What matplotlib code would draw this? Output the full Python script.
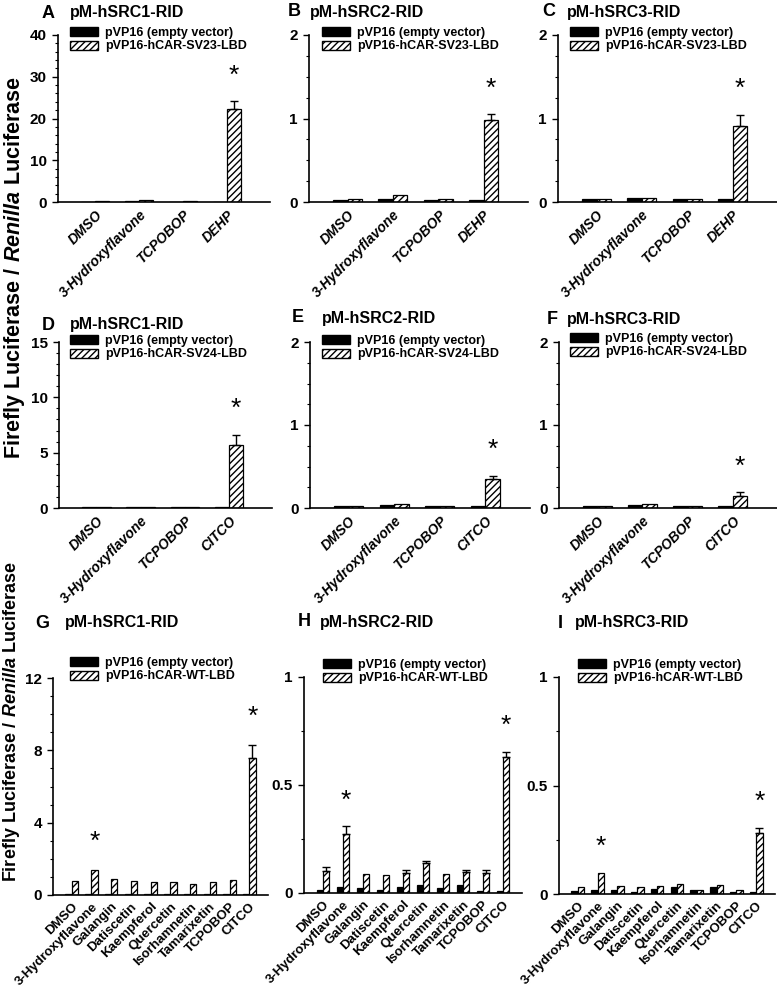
import numpy as np
import matplotlib
matplotlib.use("Agg")
import matplotlib.pyplot as plt
from matplotlib.patches import Patch

plt.rcParams['font.family'] = ['Liberation Sans', 'DejaVu Sans']
plt.rcParams['font.weight'] = 'bold'
plt.rcParams['mathtext.fontset'] = 'custom'
plt.rcParams['mathtext.rm'] = 'Liberation Sans'
plt.rcParams['mathtext.it'] = 'Liberation Sans:italic'
plt.rcParams['mathtext.bf'] = 'Liberation Sans:bold'
plt.rcParams['mathtext.sf'] = 'Liberation Sans:bold:italic'
plt.rcParams['hatch.linewidth'] = 1.0

# categories
cats_sv23 = ['DMSO', '3-Hydroxyflavone', 'TCPOBOP', 'DEHP']
cats_sv24 = ['DMSO', '3-Hydroxyflavone', 'TCPOBOP', 'CITCO']
cats_wt = ['DMSO', '3-Hydroxyflavone', 'Galangin', 'Datiscetin', 'Kaempferol',
           'Quercetin', 'Isorhamnetin', 'Tamarixetin', 'TCPOBOP', 'CITCO']

# row 1 (SV23)
a_empty = [0.1, 0.15, 0.1, 0.1]
a_car = [0.25, 0.5, 0.3, 22.3]
a_err = [0, 0, 0, 2.0]
b_empty = [0.02, 0.04, 0.02, 0.02]
b_car = [0.04, 0.08, 0.03, 0.98]
b_err = [0, 0, 0, 0.07]
c_empty = [0.03, 0.05, 0.03, 0.03]
c_car = [0.04, 0.05, 0.04, 0.91]
c_err = [0, 0, 0, 0.13]

# row 2 (SV24)
d_empty = [0.05, 0.08, 0.05, 0.05]
d_car = [0.07, 0.1, 0.06, 5.65]
d_err = [0, 0, 0, 0.95]
e_empty = [0.02, 0.04, 0.02, 0.02]
e_car = [0.03, 0.05, 0.03, 0.35]
e_err = [0, 0, 0, 0.03]
f_empty = [0.02, 0.04, 0.02, 0.02]
f_car = [0.03, 0.05, 0.03, 0.14]
f_err = [0, 0, 0, 0.05]

# row 3 (WT)
g_empty = [0.03, 0.05, 0.04, 0.03, 0.04, 0.04, 0.03, 0.05, 0.03, 0.04]
g_car = [0.75, 1.4, 0.9, 0.75, 0.7, 0.7, 0.6, 0.7, 0.85, 7.6]
g_err = [0, 0, 0, 0, 0, 0, 0, 0, 0, 0.7]
h_empty = [0.015, 0.03, 0.025, 0.012, 0.028, 0.035, 0.022, 0.035, 0.01, 0.01]
h_car = [0.1, 0.274, 0.09, 0.083, 0.092, 0.138, 0.09, 0.098, 0.092, 0.628]
h_err = [0.02, 0.034, 0, 0, 0.013, 0.008, 0, 0.01, 0.015, 0.026]
i_empty = [0.015, 0.02, 0.02, 0.01, 0.025, 0.03, 0.018, 0.032, 0.008, 0.01]
i_car = [0.03, 0.095, 0.035, 0.03, 0.035, 0.045, 0.02, 0.04, 0.02, 0.28]
i_err = [0, 0, 0, 0, 0, 0, 0, 0, 0, 0.025]

fig = plt.figure(figsize=(7.77, 9.92), dpi=100)
W, H = 777.0, 992.0


def px_axes(left, right, top, bottom):
    return fig.add_axes([left / W, 1 - bottom / H, (right - left) / W, (bottom - top) / H])


def panel(ax, cats, empty, car, err, stars, ymax, major, minor, ylabels,
          star_off, italic, legend_label, leg_xy, letter, letter_xy, title_x, title):
    x = np.arange(len(cats))
    w = 0.32
    empty = np.array(empty)
    car = np.array(car)
    err = np.array(err)
    ax.bar(x - w / 2, empty, w, color='black', edgecolor='black', linewidth=0.9)
    ax.bar(x + w / 2, car, w, color='white', edgecolor='black', linewidth=0.9,
           hatch='/////')
    m = err > 0
    ax.errorbar(x[m] + w / 2, car[m], yerr=[np.zeros(m.sum()), err[m]], fmt='none',
                ecolor='black', elinewidth=1.0, capsize=3, capthick=1.0)
    for s in stars:
        ax.text(x[s] + w / 2, car[s] + err[s] + star_off * ymax, '*', ha='center',
                va='center', fontsize=19, fontweight='normal')
    ax.set_ylim(0, ymax)
    if len(cats) == 4:
        ax.set_xlim(-0.85, 3.98)
        xfs = 10
    else:
        ax.set_xlim(-0.95, 9.95)
        xfs = 9.5
    ax.set_yticks(major)
    ax.set_yticklabels(ylabels, fontsize=11, fontweight='bold')
    ax.set_yticks(minor, minor=True)
    ax.set_xticks(x)
    ax.set_xticklabels(cats, rotation=45, ha='right', rotation_mode='anchor',
                       fontsize=xfs, fontweight='bold', fontfamily='Liberation Sans',
                       fontstyle='italic' if italic else 'normal')
    ax.tick_params(axis='x', length=0, pad=4)
    ax.tick_params(axis='y', which='major', length=4, width=1, direction='out', pad=4)
    ax.tick_params(axis='y', which='minor', length=2, width=0.8, direction='out')
    for sp in ['top', 'right']:
        ax.spines[sp].set_visible(False)
    for sp in ['left', 'bottom']:
        ax.spines[sp].set_linewidth(1.2)
    handles = [Patch(facecolor='black', edgecolor='black'),
               Patch(facecolor='white', edgecolor='black', hatch='/////')]
    fig.legend(handles, ['pVP16 (empty vector)', legend_label], loc='upper left',
               bbox_to_anchor=(leg_xy[0] / W, 1 - leg_xy[1] / H), frameon=False,
               fontsize=9, handlelength=2.2, handleheight=0.75, borderpad=0,
               labelspacing=0.12, handletextpad=0.6, borderaxespad=0)
    fig.text(letter_xy[0] / W, 1 - letter_xy[1] / H, letter, fontsize=13,
             fontweight='bold', va='center', ha='left')
    fig.text(title_x / W, 1 - letter_xy[1] / H, title, fontsize=11.5,
             fontweight='bold', va='center', ha='left')


top_major = [0, 1, 2]
top_minor = np.arange(0, 2.01, 0.25)
wt_major = [0, 0.5, 1]
wt_minor = np.arange(0, 1.01, 0.25)

specs = [
    # row 1
    dict(box=(58, 270, 35, 202), cats=cats_sv23, d=(a_empty, a_car, a_err), stars=[3],
         ymax=40, major=[0, 10, 20, 30, 40], minor=np.arange(0, 41, 2),
         ylab=['0', '10', '20', '30', '40'], so=0.15, it=True, leg='pVP16-hCAR-SV23-LBD',
         lxy=(70, 27), letter='A', pos=(42, 13), tx=70, title='pM-hSRC1-RID'),
    dict(box=(309, 528, 35, 202), cats=cats_sv23, d=(b_empty, b_car, b_err), stars=[3],
         ymax=2, major=top_major, minor=top_minor, ylab=['0', '1', '2'], so=0.15, it=True,
         leg='pVP16-hCAR-SV23-LBD', lxy=(322, 27), letter='B', pos=(288, 12), tx=310,
         title='pM-hSRC2-RID'),
    dict(box=(558, 777, 35, 202), cats=cats_sv23, d=(c_empty, c_car, c_err), stars=[3],
         ymax=2, major=top_major, minor=top_minor, ylab=['0', '1', '2'], so=0.155, it=True,
         leg='pVP16-hCAR-SV23-LBD', lxy=(570, 27), letter='C', pos=(542, 12), tx=567,
         title='pM-hSRC3-RID'),
    # row 2
    dict(box=(59, 272, 342, 508), cats=cats_sv24, d=(d_empty, d_car, d_err), stars=[3],
         ymax=15, major=[0, 5, 10, 15], minor=np.arange(0, 15.1, 1),
         ylab=['0', '5', '10', '15'], so=0.16, it=True, leg='pVP16-hCAR-SV24-LBD',
         lxy=(70, 335), letter='D', pos=(42, 325), tx=70, title='pM-hSRC1-RID'),
    dict(box=(310, 530, 342, 508), cats=cats_sv24, d=(e_empty, e_car, e_err), stars=[3],
         ymax=2, major=top_major, minor=top_minor, ylab=['0', '1', '2'], so=0.16, it=True,
         leg='pVP16-hCAR-SV24-LBD', lxy=(322, 335), letter='E', pos=(292, 318), tx=322,
         title='pM-hSRC2-RID'),
    dict(box=(559, 777, 342, 508), cats=cats_sv24, d=(f_empty, f_car, f_err), stars=[3],
         ymax=2, major=top_major, minor=top_minor, ylab=['0', '1', '2'], so=0.155, it=True,
         leg='pVP16-hCAR-SV24-LBD', lxy=(570, 333), letter='F', pos=(547, 320), tx=567,
         title='pM-hSRC3-RID'),
    # row 3
    dict(box=(53, 268, 678, 895), cats=cats_wt, d=(g_empty, g_car, g_err), stars=[1, 9],
         ymax=12, major=[0, 4, 8, 12], minor=np.arange(0, 12.1, 1),
         ylab=['0', '4', '8', '12'], so=0.13, it=False, leg='pVP16-hCAR-WT-LBD',
         lxy=(70, 657), letter='G', pos=(35, 623), tx=65, title='pM-hSRC1-RID'),
    dict(box=(304, 522, 677, 893), cats=cats_wt, d=(h_empty, h_car, h_err), stars=[1, 9],
         ymax=1, major=wt_major, minor=wt_minor, ylab=['0', '0.5', '1'], so=0.12, it=False,
         leg='pVP16-hCAR-WT-LBD', lxy=(323, 659), letter='H', pos=(298, 622), tx=320,
         title='pM-hSRC2-RID'),
    dict(box=(559, 775, 677, 894), cats=cats_wt, d=(i_empty, i_car, i_err), stars=[1, 9],
         ymax=1, major=wt_major, minor=wt_minor, ylab=['0', '0.5', '1'], so=0.12, it=False,
         leg='pVP16-hCAR-WT-LBD', lxy=(578, 659), letter='I', pos=(558, 623), tx=575,
         title='pM-hSRC3-RID'),
]

for s in specs:
    ax = px_axes(*s['box'])
    panel(ax, s['cats'], *s['d'], s['stars'], s['ymax'], s['major'], s['minor'], s['ylab'],
          s['so'], s['it'], s['leg'], s['lxy'], s['letter'], s['pos'], s['tx'], s['title'])

fig.text(15 / W, 1 - 268 / H,
         r'$\mathbf{Firefly\ Luciferase\ /\ }\mathsf{Renilla}\mathbf{\ Luciferase}$',
         rotation=90, ha='center', va='center', fontsize=15.5)
fig.text(12 / W, 1 - 722 / H,
         r'$\mathrm{Firefly\ Luciferase\ /\ }\mathit{Renilla}\mathrm{\ Luciferase}$',
         rotation=90, ha='center', va='center', fontsize=13)

fig.savefig('out.png', dpi=100)
